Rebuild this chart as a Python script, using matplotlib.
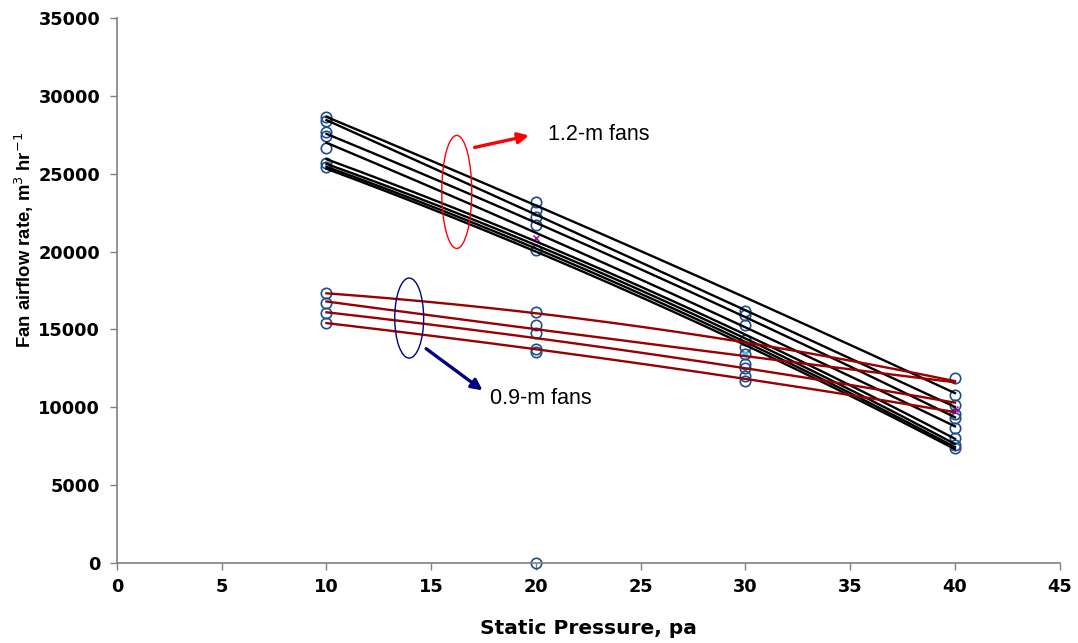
import numpy as np
import matplotlib
matplotlib.use("Agg")
import matplotlib.pyplot as plt
from matplotlib.patches import Ellipse

plt.rcParams['font.family'] = ['Liberation Sans', 'DejaVu Sans']

pressure = [10, 20, 30, 40]

# 1.2-m fans (black curves)
fans_12 = [
    [28640, 22990, 17020, 10920],
    [28450, 22350, 16250, 10020],
    [27610, 21710, 15930, 9310],
    [27040, 21060, 15280, 8730],
    [26010, 20420, 14900, 7900],
    [25690, 20230, 14600, 7580],
    [25500, 20040, 14350, 7390],
    [25370, 19840, 14150, 7260],
]

# 0.9-m fans (dark red curves)
fans_09 = [
    [17300, 16100, 14100, 11700],
    [16800, 15000, 13300, 11600],
    [16100, 14450, 12500, 10300],
    [15400, 13750, 11800, 9700],
]

# measured points (hollow circles)
pts_x = [10, 10, 10, 10, 10, 10, 10, 10, 10, 10, 10,
         20, 20, 20, 20, 20, 20, 20, 20, 20, 20, 20,
         30, 30, 30, 30, 30, 30, 30, 30, 30, 30,
         40, 40, 40, 40, 40, 40, 40, 40, 40]
pts_y = [28640, 28400, 27650, 27400, 26650, 25700, 25450, 17340, 16700, 16050, 15410,
         23180, 22670, 22220, 21700, 20100, 16120, 15280, 14770, 13550, 13750, 0,
         16200, 15900, 15300, 14300, 13900, 13400, 12800, 12500, 12000, 11700,
         11900, 10800, 10150, 9600, 9300, 8700, 8000, 7600, 7400]

xticks = list(range(0, 50, 5))
yticks = list(range(0, 40000, 5000))

fig = plt.figure(figsize=(10.78, 6.43), dpi=100)
ax = fig.add_axes([0.1085, 0.1244, 0.8745, 0.8476])

ax.plot(pts_x, pts_y, linestyle='none', marker='o', markersize=7.5,
        markerfacecolor='none', markeredgecolor='#1f4e8c', markeredgewidth=1.2,
        zorder=2, clip_on=False)

xs = np.linspace(10, 40, 200)
for ser in fans_12:
    c = np.polyfit(pressure, ser, 2)
    ax.plot(xs, np.polyval(c, xs), color='black', lw=1.7, zorder=3)
for ser in fans_09:
    c = np.polyfit(pressure, ser, 2)
    ax.plot(xs, np.polyval(c, xs), color='#990000', lw=1.7, zorder=3)

# small extra marks
ax.plot([20, 40], [20900, 9900], linestyle='none', marker='x', color='#aa00aa',
        markersize=4, mew=1, zorder=2)
ax.plot([30], [13400], linestyle='none', marker='s', color='#33ccee',
        markersize=3, zorder=2)

# annotations
ax.add_patch(Ellipse((16.22, 23830), 1.43, 7260, fill=False, edgecolor='red', lw=1.0, zorder=4))
ax.annotate('', xy=(19.8, 27490), xytext=(16.94, 26650),
            arrowprops=dict(arrowstyle='-|>', color='red', lw=2.4, mutation_scale=16))
ax.text(20.56, 27550, '1.2-m fans', fontsize=15.5, va='center', ha='left')

ax.add_patch(Ellipse((13.95, 15730), 1.38, 5140, fill=False, edgecolor='#000080', lw=1.0, zorder=4))
ax.annotate('', xy=(17.56, 10980), xytext=(14.65, 13870),
            arrowprops=dict(arrowstyle='-|>', color='#000080', lw=2.4, mutation_scale=16))
ax.text(17.8, 10550, '0.9-m fans', fontsize=15.5, va='center', ha='left')

ax.set_xlim(0, 45)
ax.set_ylim(0, 35000)
ax.set_xticks(xticks)
ax.set_yticks(yticks)
tick_font = dict(family='DejaVu Sans', fontweight='bold', fontsize=12.8)
ax.set_xticklabels([str(v) for v in xticks], **tick_font)
ax.set_yticklabels([str(v) for v in yticks], **tick_font)
for s in ['top', 'right']:
    ax.spines[s].set_visible(False)
for s in ['left', 'bottom']:
    ax.spines[s].set_color('#808080')
    ax.spines[s].set_linewidth(1.2)
ax.tick_params(direction='out', length=5, color='#808080', width=1.0)
ax.tick_params(axis='y', pad=7)
ax.tick_params(axis='x', pad=6)

ax.set_xlabel('Static Pressure, pa', family='DejaVu Sans', fontweight='bold',
              fontsize=14.5, labelpad=16)
ax.set_ylabel('Fan airflow rate, m$^3$ hr$^{-1}$', fontweight='bold', fontsize=13.3,
              va='center')
ax.yaxis.set_label_coords(-0.098, 0.593)

fig.savefig('out.png', dpi=100)
